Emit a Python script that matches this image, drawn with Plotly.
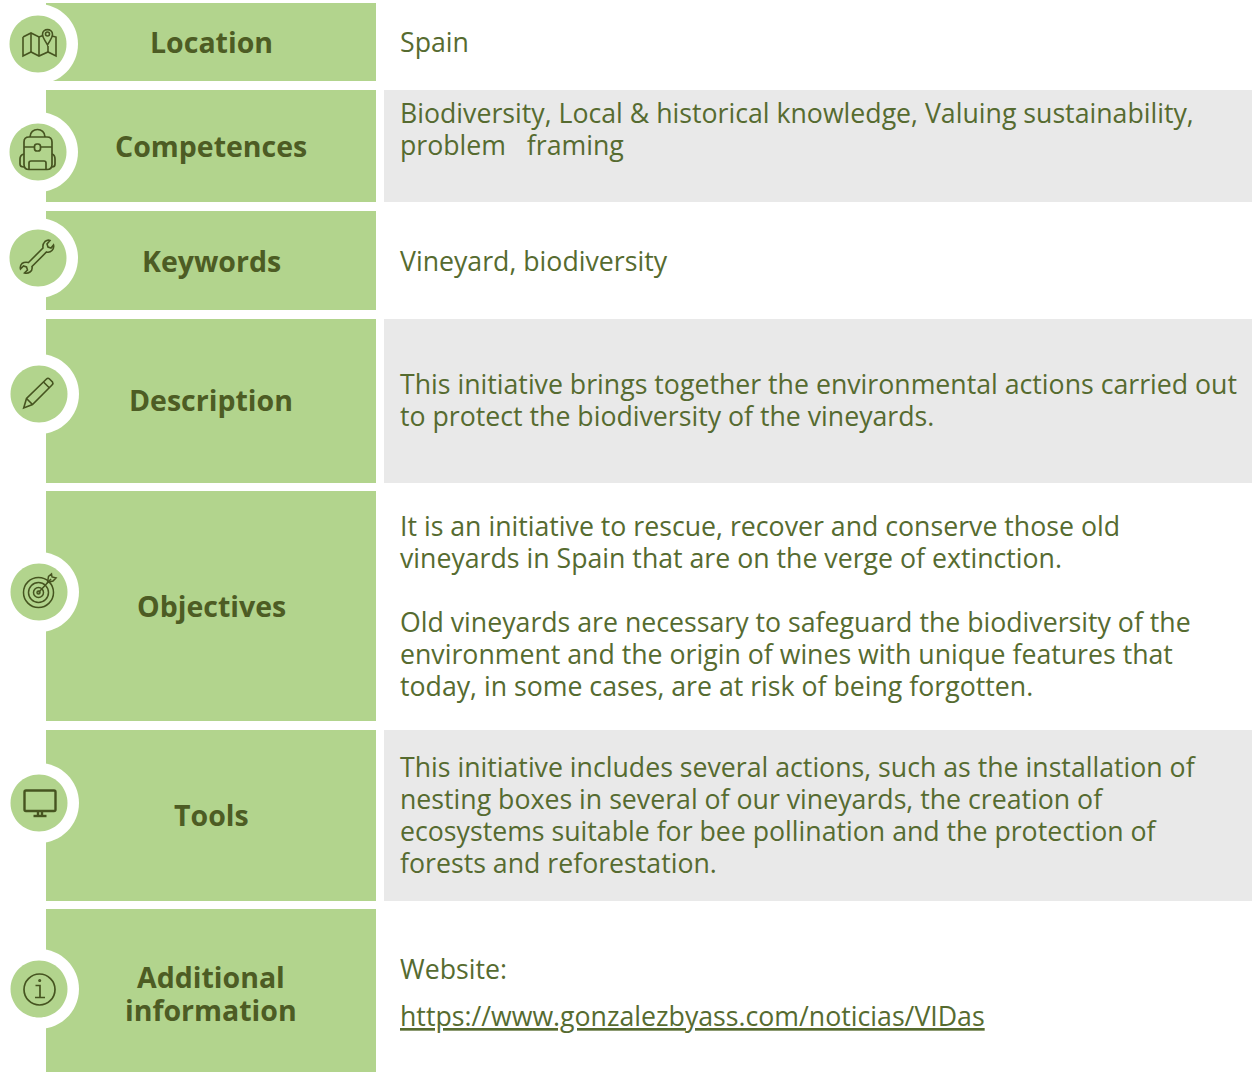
import plotly.graph_objects as go

W, H = 1259, 1072
GREEN = "#B2D48D"
GRAY = "#E9E9E9"
TEXT = "#566B30"
LABEL = "#4D5C24"
ICON = "#465420"

row_labels = [["Location"], ["Competences"], ["Keywords"], ["Description"], ["Objectives"], ["Tools"],
              ["Additional", "information"]]
row_top = [3, 90, 211, 319, 491, 730, 909]
row_bottom = [81, 202, 310, 483, 721, 901, 1072]
row_shaded = [False, True, False, True, False, True, False]
label_y = [[42], [146], [261], [400], [606], [815], [977, 1010]]
icon_centres = [(38, 44), (38, 152), (38, 258), (39, 394), (39, 592), (39, 803), (39, 989)]

body_lines = [
    ("Spain", 41),
    ("Biodiversity, Local & historical knowledge, Valuing sustainability,", 112),
    ("problem   framing", 144),
    ("Vineyard, biodiversity", 260),
    ("This initiative brings together the environmental actions carried out", 383),
    ("to protect the biodiversity of the vineyards.", 415),
    ("It is an initiative to rescue, recover and conserve those old", 525),
    ("vineyards in Spain that are on the verge of extinction.", 557),
    ("Old vineyards are necessary to safeguard the biodiversity of the", 621),
    ("environment and the origin of wines with unique features that", 653),
    ("today, in some cases, are at risk of being forgotten.", 685),
    ("This initiative includes several actions, such as the installation of", 766),
    ("nesting boxes in several of our vineyards, the creation of", 798),
    ("ecosystems suitable for bee pollination and the protection of", 830),
    ("forests and reforestation.", 862),
    ("Website:", 968),
    ("<u>https://www.gonzalezbyass.com/noticias/VIDas</u>", 1015),
]


def circle(cx, cy, r):
    k = 0.5523 * r
    return (f"M{cx-r},{cy} C{cx-r},{cy-k} {cx-k},{cy-r} {cx},{cy-r} "
            f"C{cx+k},{cy-r} {cx+r},{cy-k} {cx+r},{cy} "
            f"C{cx+r},{cy+k} {cx+k},{cy+r} {cx},{cy+r} "
            f"C{cx-k},{cy+r} {cx-r},{cy+k} {cx-r},{cy} Z")


def rrect(x0, y0, x1, y1, r):
    return (f"M{x0+r},{y0} L{x1-r},{y0} Q{x1},{y0} {x1},{y0+r} L{x1},{y1-r} Q{x1},{y1} {x1-r},{y1} "
            f"L{x0+r},{y1} Q{x0},{y1} {x0},{y1-r} L{x0},{y0+r} Q{x0},{y0} {x0+r},{y0} Z")


icon_paths = [
    # map with pin
    ["M23,37 L31,33 L39,37 L43,35.5 M52,36 L56,37 L56,56 L48,52 L39,56 L31,52 L23,56 L23,37",
     "M31,33 L31,52 M39,37 L39,56 M48,52 L48,46",
     "M47.5,45 C45,40 42.5,38 42.5,34.5 C42.5,28 52.5,28 52.5,34.5 C52.5,38 50,40 47.5,45 Z",
     circle(47.5, 34, 2)],
    # backpack
    [rrect(24, 137, 52, 169.5, 5),
     "M30,137 C30,127 45,127 45,137",
     "M24,147 L34.5,147 M40.5,147 L52,147",
     rrect(34.5, 144, 40.5, 151, 2.5),
     "M29,169 L29,163 Q29,161 31,161 L44,161 Q46,161 46,163 L46,169",
     "M24,154 Q20,155 20,159 L20,164 Q20,167 24,167 M52,154 Q55,155 55,159 L55,164 Q55,167 52,167"],
    # wrench
    ["M28.5,262.5 L43,248 C42.5,245 43.5,243 45,241.5 C47,240 49,240 50,240.5 L47,244 L48,247 L51,248 L53.5,245 "
     "C54,247 53.5,249 52,250.5 C50.5,252 48.5,252.5 46.5,252 L32,266.5 "
     "C32.5,269 31.5,271 30,272 C28,273.5 26,273.5 24.5,273 L27.5,270 L26.5,267 L23.5,266 L20.5,269 "
     "C20,267 20.5,265 22,263.5 C24,262 26.5,262 28.5,262.5 Z"],
    # pencil
    ["M23.7,408 L26.5,398.5 L46.5,379 Q48,377.5 49.5,379 L52.5,382 Q53.5,383.5 52,385 L32.5,404.5 Z",
     "M26.5,398.5 L32.5,404.5 M43.5,382 L49.5,388"],
    # target
    [circle(38.5, 592.5, 15), circle(38.5, 592.5, 10), circle(38.5, 592.5, 5), circle(38.5, 592.5, 1.5),
     "M38.5,592.5 L51,579",
     "M47.5,582.5 L48.5,576.5 L51.5,574 L52,577 L56,578 L53,581 L47.5,582.5 Z"],
    # monitor
    [rrect(24.5, 790.5, 55.5, 811, 1.5),
     "M38,811 L38,815.5 M42,811 L42,815.5",
     "M33.5,816 L46.5,816"],
    # info
    [circle(39.5, 989.5, 15.5),
     "M35.5,985.5 L40,985.5 L40,997 M35,997.5 L45,997.5",
     circle(39.7, 980.5, 0.7)],
]
icon_widths = [1.6, 1.7, 1.6, 1.6, 1.5, 2.4, 1.7]

shapes = []


def rect(x0, y0, x1, y1, fill):
    shapes.append(dict(type="rect", x0=x0, x1=x1, y0=y0, y1=y1, fillcolor=fill, line_width=0, layer="below"))


for top, bottom, shaded in zip(row_top, row_bottom, row_shaded):
    rect(46, top, 376, bottom, GREEN)
    if shaded:
        rect(384, top, 1252, bottom, GRAY)

for (cx, cy) in icon_centres:
    shapes.append(dict(type="path", path=circle(cx, cy, 40), fillcolor="white", line_width=0, layer="below"))
    shapes.append(dict(type="path", path=circle(cx, cy, 28.5), fillcolor=GREEN, line_width=0, layer="below"))

for paths, width in zip(icon_paths, icon_widths):
    for p in paths:
        shapes.append(dict(type="path", path=p, line=dict(color=ICON, width=width), layer="above"))

annotations = []
for lines, ys in zip(row_labels, label_y):
    for txt, y in zip(lines, ys):
        annotations.append(dict(x=211, y=y, text=f"<b>{txt}</b>", showarrow=False, xanchor="center", yanchor="middle",
                                font=dict(family="Open Sans", size=28.5, color=LABEL)))
for txt, y in body_lines:
    annotations.append(dict(x=398, y=y, text=txt, showarrow=False, xanchor="left", yanchor="middle",
                            font=dict(family="Open Sans", size=26.7, color=TEXT)))

fig = go.Figure()
fig.update_layout(
    width=W, height=H, margin=dict(l=0, r=0, t=0, b=0),
    paper_bgcolor="white", plot_bgcolor="white", showlegend=False,
    xaxis=dict(range=[0, W], visible=False, fixedrange=True),
    yaxis=dict(range=[H, 0], visible=False, fixedrange=True),
    shapes=shapes, annotations=annotations,
)
fig.write_html("out.html", config={"displayModeBar": False},
               post_script="document.body.style.margin='0';document.body.style.overflow='hidden';")
